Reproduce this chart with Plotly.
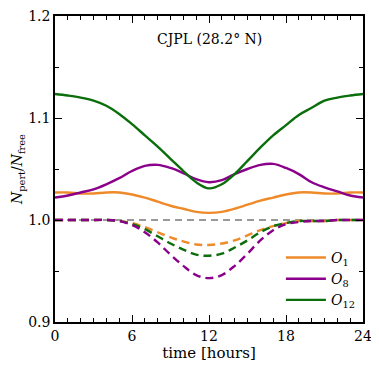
import plotly.graph_objects as go

hours = list(range(25))

# solid: perturbed / free ratio
o1_solid = [1.027, 1.027, 1.026, 1.026, 1.027, 1.027, 1.025, 1.022, 1.018, 1.014, 1.011, 1.008, 1.007,
            1.008, 1.011, 1.015, 1.019, 1.022, 1.025, 1.027, 1.027, 1.026, 1.026, 1.027, 1.027]
o8_solid = [1.022, 1.024, 1.027, 1.030, 1.035, 1.041, 1.048, 1.053, 1.054, 1.051, 1.046, 1.040, 1.037,
            1.039, 1.045, 1.050, 1.054, 1.055, 1.051, 1.045, 1.037, 1.032, 1.028, 1.024, 1.022]
o12_solid = [1.1235, 1.122, 1.120, 1.117, 1.112, 1.104, 1.094, 1.083, 1.072, 1.060, 1.048, 1.037, 1.031,
             1.035, 1.045, 1.058, 1.071, 1.083, 1.093, 1.103, 1.110, 1.117, 1.120, 1.122, 1.1235]

# dashed
o1_dash = [1.0, 1.0, 1.0, 1.0, 1.0, 0.999, 0.997, 0.993, 0.988, 0.983, 0.979, 0.976, 0.9755,
           0.977, 0.980, 0.985, 0.990, 0.994, 0.997, 0.999, 0.999, 0.999, 1.0, 1.0, 1.0]
o8_dash = [1.0, 1.0, 1.0, 1.0, 1.0, 0.999, 0.995, 0.988, 0.978, 0.966, 0.955, 0.946, 0.943,
           0.946, 0.955, 0.967, 0.980, 0.990, 0.996, 0.998, 0.999, 0.999, 1.0, 1.0, 1.0]
o12_dash = [1.0, 1.0, 1.0, 1.0, 1.0, 0.999, 0.996, 0.991, 0.984, 0.977, 0.971, 0.966, 0.965,
            0.967, 0.973, 0.980, 0.988, 0.994, 0.997, 0.999, 0.999, 0.999, 1.0, 1.0, 1.0]
baseline = [1.0] * 25

names = ["<i>O</i><sub>1</sub>", "<i>O</i><sub>8</sub>", "<i>O</i><sub>12</sub>"]
colors = ["#ee8a2a", "#8b008b", "#0a6e0a"]

serif = "DejaVu Serif"

fig = go.Figure()

fig.add_trace(go.Scatter(x=hours, y=baseline, mode="lines", showlegend=False,
                         line=dict(color="#999999", width=1.8, dash="7px,5px")))

for ys, c in zip([o1_dash, o12_dash, o8_dash], [colors[0], colors[2], colors[1]]):
    fig.add_trace(go.Scatter(x=hours, y=ys, mode="lines", showlegend=False, line_shape="spline",
                             line=dict(color=c, width=2.4, dash="8px,5px")))

for ys, c, n in zip([o1_solid, o8_solid, o12_solid], colors, names):
    fig.add_trace(go.Scatter(x=hours, y=ys, mode="lines", name=n, line_shape="spline",
                             line=dict(color=c, width=2.4)))

fig.add_annotation(text="CJPL (28.2° N)", x=12, y=1.177, showarrow=False,
                   font=dict(family=serif, size=14, color="black"))

axis_common = dict(showline=True, linecolor="black", linewidth=1.5, mirror="ticks",
                   ticks="inside", ticklen=7, tickwidth=1, tickcolor="black",
                   showgrid=False, zeroline=False, automargin=False,
                   ticklabeloverflow="allow",
                   tickfont=dict(family=serif, size=14, color="black"))

fig.update_xaxes(range=[0, 24], dtick=6, tick0=0,
                 title=dict(text="time [hours]", font=dict(family=serif, size=15, color="black"), standoff=4),
                 minor=dict(dtick=1, ticks="inside", ticklen=4, tickcolor="black"),
                 **axis_common)
fig.update_yaxes(range=[0.9, 1.2], dtick=0.1, tick0=0.9, tickformat=".1f",
                 title=dict(text="<i>N</i><sub>pert</sub>/<i>N</i><sub>free</sub>",
                            font=dict(family=serif, size=14, color="black"), standoff=2),
                 minor=dict(dtick=0.05, ticks="inside", ticklen=4, tickcolor="black"),
                 **axis_common)

# page adds ~8px body margin, so the figure is a bit smaller than the window
fig.update_layout(
    width=371, height=364,
    margin=dict(l=47, r=16, t=8, b=50),
    plot_bgcolor="white", paper_bgcolor="white",
    font=dict(family=serif, color="black"),
    legend=dict(x=0.99, y=0.02, xanchor="right", yanchor="bottom",
                bgcolor="rgba(0,0,0,0)", font=dict(family=serif, size=14), itemwidth=40,
                tracegroupgap=2),
)

fig.write_html("out.html")
